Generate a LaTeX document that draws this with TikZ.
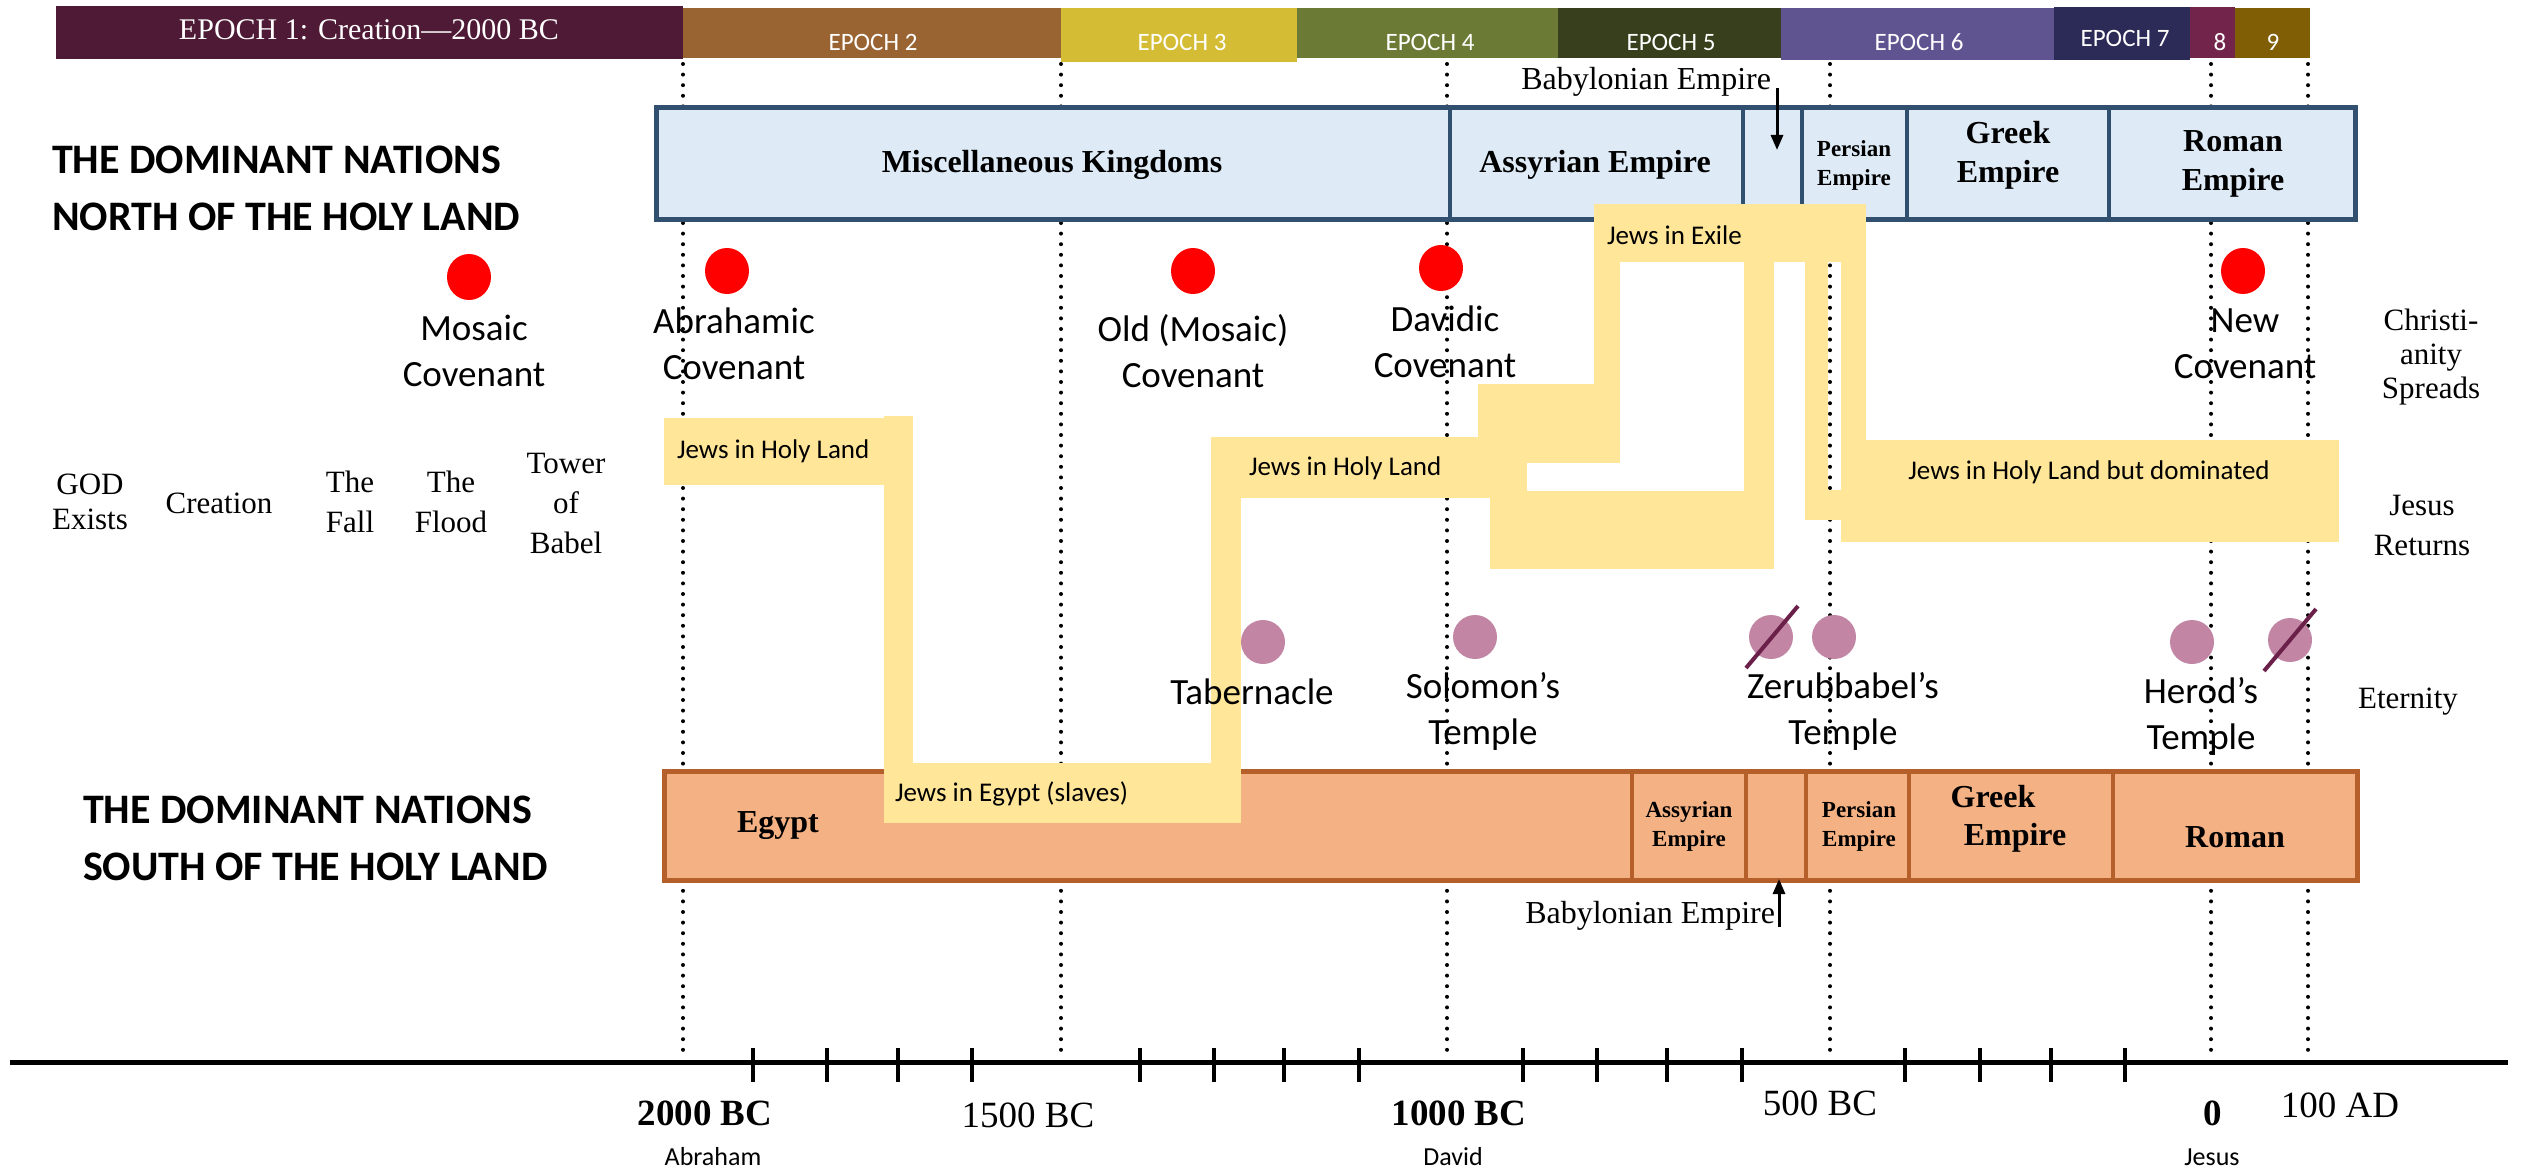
\documentclass[tikz,border=0pt]{standalone}
\usepackage{fontspec}
\setmainfont{Liberation Serif}
\newfontfamily\calib{Carlito}
\usetikzlibrary{arrows.meta}
\newcommand\fs[2]{\fontsize{#1}{#2}\selectfont}
\definecolor{ep1}{HTML}{4E1A35}
\definecolor{ep2}{HTML}{9A6432}
\definecolor{ep3}{HTML}{D4BD35}
\definecolor{ep4}{HTML}{6B7A35}
\definecolor{ep5}{HTML}{373F1C}
\definecolor{ep6}{HTML}{5F5490}
\definecolor{ep7}{HTML}{2C2A57}
\definecolor{ep8}{HTML}{73244B}
\definecolor{ep9}{HTML}{7F5E05}
\definecolor{nfill}{HTML}{DEEBF7}
\definecolor{nline}{HTML}{31506F}
\definecolor{sfill}{HTML}{F4B183}
\definecolor{sline}{HTML}{B5602A}
\definecolor{jew}{HTML}{FFE699}
\definecolor{temple}{HTML}{C285A4}
\definecolor{slash}{HTML}{6B2049}
\tikzset{
  epochtxt/.style={text=white, font=\calib\fs{25}{30}},
  jtxt/.style={font=\calib\fs{27}{32}},
  hand/.style={font=\calib\fs{37}{46}, align=center},
  evt/.style={font=\fs{31}{40}, align=center},
  head/.style={font=\calib\bfseries\fs{42}{57}, align=left, anchor=west},
  nlab/.style={font=\bfseries\fs{32}{39}, align=center},
  nsmall/.style={font=\bfseries\fs{23}{29}, align=center},
  axislab/.style={font=\fs{37}{42}},
  axisbold/.style={font=\bfseries\fs{37}{42}},
  sublab/.style={font=\calib\fs{26}{30}},
  babtxt/.style={font=\fs{32}{36}},
  dotline/.style={line width=4pt, line cap=round, dash pattern=on 0pt off 10.6pt},
  tickmark/.style={line width=4.5pt},
  arr/.style={line width=3pt, -{Triangle[length=15pt,width=12pt]}},
  slashline/.style={draw=slash, line width=4pt},
}
\begin{document}
\begin{tikzpicture}[x=1pt,y=-1pt, every node/.style={inner sep=0pt, outer sep=0pt}]
\useasboundingbox[fill=white] (0,0) rectangle (2521,1169);

% epoch bar
\fill[ep1] (56,6) rectangle (683,59);
\fill[ep2] (683,8) rectangle (1061,58);
\fill[ep3] (1061,8) rectangle (1297,62);
\fill[ep4] (1297,8) rectangle (1558,58);
\fill[ep5] (1558,8) rectangle (1781,58);
\fill[ep6] (1781,8) rectangle (2054,60);
\fill[ep7] (2054,7) rectangle (2190,60);
\fill[ep8] (2190,7) rectangle (2235,58);
\fill[ep9] (2235,8) rectangle (2310,58);
\node[text=white, font=\fs{30}{34}] (e1) at (369,30) {EPOCH 1: Creation---2000 BC};
\node[epochtxt] (e2) at (873,42) {EPOCH 2};
\node[epochtxt] (e3) at (1182,42) {EPOCH 3};
\node[epochtxt] (e4) at (1430,42) {EPOCH 4};
\node[epochtxt] (e5) at (1671,42) {EPOCH 5};
\node[epochtxt] (e6) at (1919,42) {EPOCH 6};
\node[epochtxt] (e7) at (2125,38) {EPOCH 7};
\node[epochtxt] (e8) at (2220,42) {8};
\node[epochtxt] (e9) at (2273,42) {9};

% dotted lines
\foreach \x in {683,1061,1447,1830,2211,2308}
  \draw[dotline] (\x,64) -- (\x,1058);

% timeline
\draw[line width=5pt] (10,1062) -- (2508,1062);
\foreach \x in {753,827,898,972,1140,1214,1284,1359,1523,1597,1667,1742,1905,1980,2051,2125}
  \draw[tickmark] (\x,1048) -- (\x,1082);

% north box
\filldraw[fill=nfill, draw=nline, line width=5pt] (656,108) rectangle (2355,220);
\foreach \x in {1450,1743,1802,1907,2109}
  \draw[nline, line width=4.5pt] (\x,108) -- (\x,220);
\node[nlab] (misc) at (1052,165) {Miscellaneous Kingdoms};
\node[nlab] (assN) at (1595,165) {Assyrian Empire};
\node[nsmall] (perN) at (1854,165) {Persian\\Empire};
\node[nlab] (greN) at (2008,155) {Greek\\Empire};
\node[nlab] (romN) at (2233,164) {Roman\\Empire};

% south box
\filldraw[fill=sfill, draw=sline, line width=5pt] (664,771) rectangle (2357,880);
\foreach \x in {1632,1746,1806,1909,2113}
  \draw[sline, line width=4.5pt] (\x,771) -- (\x,880);
\node[nlab] (egypt) at (778,826) {Egypt};
\node[nsmall] (assS) at (1689,826) {Assyrian\\Empire};
\node[nsmall] (perS) at (1859,826) {Persian\\Empire};
\node[nlab] (greS1) at (1993,797) {Greek};
\node[nlab] (greS2) at (2015,838) {Empire};
\node[nlab] (romS) at (2235,837) {Roman};

% Jews path (yellow)
\fill[jew] (664,418) rectangle (913,485);
\fill[jew] (884,416) rectangle (913,823);
\fill[jew] (884,763) rectangle (1241,823);
\fill[jew] (1211,437) rectangle (1241,823);
\fill[jew] (1211,437) rectangle (1527,498);
\fill[jew] (1478,384) rectangle (1620,463);
\fill[jew] (1490,491) rectangle (1774,569);
\fill[jew] (1594,204) rectangle (1866,262);
\fill[jew] (1594,262) rectangle (1620,463);
\fill[jew] (1744,262) rectangle (1774,569);
\fill[jew] (1805,262) rectangle (1828,520);
\fill[jew] (1841,262) rectangle (1866,542);
\fill[jew] (1805,490) rectangle (1866,520);
\fill[jew] (1866,440) rectangle (2339,542);
\node[jtxt, anchor=west] (jhl1) at (677,451) {Jews in Holy Land};
\node[jtxt, anchor=west] (jeg) at (895,794) {Jews in Egypt (slaves)};
\node[jtxt, anchor=west] (jhl2) at (1249,468) {Jews in Holy Land};
\node[jtxt, anchor=west] (jex) at (1607,235) {Jews in Exile};
\node[jtxt] (jdom) at (2089,472) {Jews in Holy Land but dominated};

% Babylonian arrows
\node[babtxt, anchor=east] (babN) at (1771,82) {Babylonian Empire};
\coordinate (babNtop) at (1777,88);
\coordinate (babNtip) at (1777,150);
\draw[arr] (babNtop) -- (babNtip);
\node[babtxt, anchor=east] (babS) at (1775,916) {Babylonian Empire};
\coordinate (babSbot) at (1779,927);
\coordinate (babStip) at (1779,879);
\draw[arr] (babSbot) -- (babStip);

% headings
\node[head] (headN) at (52,188) {THE DOMINANT NATIONS\\NORTH OF THE HOLY LAND};
\node[head] (headS) at (83,838) {THE DOMINANT NATIONS\\SOUTH OF THE HOLY LAND};

% early events
\node[evt, font=\fs{31}{35}] (god) at (90,502) {GOD\\Exists};
\node[evt] (creation) at (219,503) {Creation};
\node[evt] (fall) at (350,502) {The\\Fall};
\node[evt] (flood) at (451,502) {The\\Flood};
\node[evt] (babel) at (566,503) {Tower\\of\\Babel};

% right events
\node[evt, font=\fs{31}{34}] (christ) at (2431,357) {Christi-\\anity\\Spreads};
\node[evt] (returns) at (2422,525) {Jesus\\Returns};
\node[evt] (eternity) at (2408,702) {Eternity};

% covenants
\fill[red] (469,277) ellipse [x radius=22pt, y radius=23pt];
\fill[red] (727,271) ellipse [x radius=22pt, y radius=23pt];
\fill[red] (1193,271) ellipse [x radius=22pt, y radius=23pt];
\fill[red] (1441,268) ellipse [x radius=22pt, y radius=23pt];
\fill[red] (2243,271) ellipse [x radius=22pt, y radius=23pt];
\node[hand] (mosaic) at (474,351) {Mosaic\\Covenant};
\node[hand] (abraham) at (734,344) {Abrahamic\\Covenant};
\node[hand] (oldcov) at (1193,351) {Old (Mosaic)\\Covenant};
\node[hand] (davidic) at (1445,342) {Davidic\\Covenant};
\node[hand] (newcov) at (2245,344) {New\\Covenant};

% temples
\fill[temple] (1263,642) circle [radius=22pt];
\fill[temple] (1475,637) circle [radius=22pt];
\fill[temple] (1771,637) circle [radius=22pt];
\fill[temple] (1834,637) circle [radius=22pt];
\fill[temple] (2192,642) circle [radius=22pt];
\fill[temple] (2290,640) circle [radius=22pt];
\draw[slashline] (1746,668) -- (1798,606);
\draw[slashline] (2264,671) -- (2316,609);
\node[hand] (tabern) at (1252,692) {Tabernacle};
\node[hand] (solomon) at (1483,711) {Solomon’s\\Temple};
\node[hand] (zerub) at (1843,711) {Zerubbabel’s\\Temple};
\node[hand] (herod) at (2201,716) {Herod’s\\Temple};

% axis labels
\node[axisbold] (y2000) at (705,1113) {2000 BC};
\node[axislab] (y1500) at (1028,1115) {1500 BC};
\node[axisbold] (y1000) at (1459,1113) {1000 BC};
\node[axislab] (y500) at (1820,1103) {500 BC};
\node[axisbold] (y0) at (2213,1113) {0};
\node[axislab] (y100) at (2340,1105) {100 AD};
\node[sublab] (abr) at (713,1157) {Abraham};
\node[sublab] (dav) at (1453,1157) {David};
\node[sublab] (jes) at (2212,1157) {Jesus};
\end{tikzpicture}
\end{document}
